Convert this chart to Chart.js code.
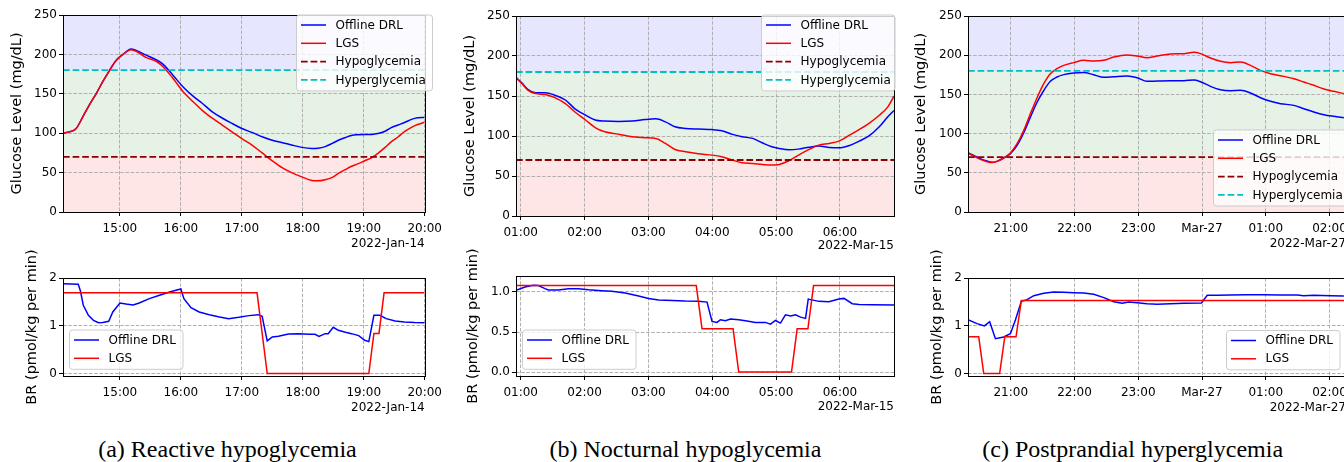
<!DOCTYPE html>
<html><head><meta charset="utf-8">
<script src="https://cdn.jsdelivr.net/npm/chart.js@4.4.0/dist/chart.umd.min.js"></script>
<style>
html,body{margin:0;padding:0;width:1344px;height:462px;overflow:hidden;background:#fff;position:relative;}
canvas{position:absolute;}
.cap{position:absolute;font-family:'Liberation Serif','Times New Roman',serif;font-size:24px;line-height:28px;white-space:nowrap;text-align:center;width:500px;color:#000;top:435px;}
</style></head><body>
<canvas id="aTop"></canvas><canvas id="aBot"></canvas>
<canvas id="bTop"></canvas><canvas id="bBot"></canvas>
<canvas id="cTop"></canvas><canvas id="cBot"></canvas>
<div class="cap" style="left:-22.5px">(a) Reactive hypoglycemia</div>
<div class="cap" style="left:435.5px">(b) Nocturnal hypoglycemia</div>
<div class="cap" style="left:882.7px">(c) Postprandial hyperglycemia</div>
<script>
// ---------- thresholds & ticks ----------
const HYPO = 70, HYPER = 180, GLU_MAX = 250;
const gluTicks = [0, 50, 100, 150, 200, 250];
const gluTickLabels = ['0', '50', '100', '150', '200', '250'];
const brTicks2 = [0, 1, 2];
const brTickLabels2 = ['0', '1', '2'];
const brTicks1 = [0, 0.5, 1.0];
const brTickLabels1 = ['0.0', '0.5', '1.0'];

// time values are minutes after midnight
const aTickTimes = [900, 960, 1020, 1080, 1140, 1200];
const aTickLabels = ['15:00', '16:00', '17:00', '18:00', '19:00', '20:00'];
const bTickTimes = [60, 120, 180, 240, 300, 360];
const bTickLabels = ['01:00', '02:00', '03:00', '04:00', '05:00', '06:00'];
const cTickTimes = [1260, 1320, 1380, 1440, 1500, 1560];
const cTickLabels = ['21:00', '22:00', '23:00', 'Mar-27', '01:00', '02:00'];

// ---------- (a) Reactive hypoglycemia ----------
const aTime = [844, 851, 857, 864, 870, 877, 883, 890, 896, 903, 911, 916, 926, 936, 942, 952, 962, 972, 981, 991, 1001, 1011, 1020, 1030, 1040, 1050, 1060, 1069, 1079, 1089, 1095, 1102, 1109, 1115, 1122, 1128, 1134, 1141, 1148, 1154, 1161, 1167, 1174, 1180, 1187, 1193, 1200];
const aGluDRL = [100, 102, 106, 122, 136, 151, 165, 180, 192, 200, 207, 205, 199, 193, 188, 174, 159, 147, 138, 127, 119, 112, 106, 101, 95.5, 91, 88, 85, 82, 80.6, 81, 83, 87, 91, 94.5, 97, 98, 98.5, 98.5, 99.5, 102.5, 107, 110.5, 113.5, 117.5, 119.5, 120];
const aGluLGS = [100, 102, 106, 122, 136, 151, 165, 180, 192, 200, 206, 204, 196, 191, 185, 170, 153, 140, 129, 119, 110, 101, 93, 85, 75, 65, 56, 50, 44.6, 40, 39.5, 41, 44, 49, 54, 58, 61, 65, 69, 74.5, 82, 89, 95.5, 102, 107.5, 111, 114];
const aBrDRLTime = [844, 859, 861, 864, 869, 874, 879, 883, 889, 893, 900, 906, 913, 919, 929, 939, 949, 957, 960, 963, 970, 978, 988, 998, 1007, 1017, 1027, 1036, 1040, 1045, 1050, 1056, 1066, 1076, 1086, 1092, 1096, 1102, 1105, 1110, 1115, 1122, 1128, 1135, 1141, 1145, 1150, 1156, 1162, 1171, 1180, 1190, 1200];
const aBrDRL = [1.88, 1.87, 1.74, 1.43, 1.22, 1.115, 1.066, 1.07, 1.094, 1.29, 1.477, 1.456, 1.435, 1.477, 1.568, 1.638, 1.707, 1.756, 1.77, 1.568, 1.38, 1.29, 1.233, 1.185, 1.15, 1.178, 1.213, 1.233, 1.2, 0.683, 0.767, 0.78, 0.83, 0.836, 0.822, 0.822, 0.78, 0.836, 0.836, 0.97, 0.906, 0.864, 0.836, 0.794, 0.697, 0.669, 1.22, 1.22, 1.15, 1.10, 1.08, 1.07, 1.066];
const aBrLGSTime = [844, 1035, 1045, 1145, 1150, 1155, 1160, 1200];
const aBrLGS = [1.69, 1.69, 0, 0, 0.84, 0.84, 1.69, 1.69];

// ---------- (b) Nocturnal hypoglycemia ----------
const bTime = [55.6, 61, 67, 74, 83, 92, 102, 111, 121, 130, 139, 152, 165, 177, 187, 196, 205, 215, 227, 240, 249, 259, 268, 278, 287, 296, 303, 312, 321, 331, 340, 350, 359, 369, 378, 387, 397, 405, 410.8];
const bGluDRL = [173, 166.4, 158, 154, 154, 151, 145, 134, 126, 120, 118.6, 118, 118.6, 120.6, 121.5, 117.7, 111.5, 109.4, 108.6, 108, 106.5, 102, 99, 97, 91.5, 86.5, 84.4, 82.8, 83.6, 86, 87.4, 85.7, 85.3, 88.2, 93.6, 99.8, 111.5, 124, 132];
const bGluLGS = [173, 165.6, 157, 153, 151.8, 148, 140.6, 130, 120, 110.6, 105.2, 102.3, 99, 97.8, 97, 90.7, 83.2, 80.3, 77.8, 76.1, 74, 69.9, 66.6, 65.7, 64.5, 63.6, 64.5, 69, 76, 83.2, 88.6, 90.7, 93.6, 101, 108, 115.6, 126, 136.4, 149.8];
const bBrDRLTime = [55.6, 64.1, 71.9, 76.6, 82.9, 86, 95.5, 104.9, 114.3, 123.7, 136.3, 145.7, 158.2, 170.8, 180.2, 189.6, 202.2, 214.7, 227.3, 235.1, 239.8, 244.5, 247.7, 252.4, 257.1, 264.9, 271.2, 280.6, 290, 294.7, 299.4, 304.1, 308.8, 313.6, 318.3, 323, 327.7, 330.2, 340.2, 349.6, 359, 363.8, 371.6, 377.9, 390.4, 410.8];
const bBrDRL = [1.02, 1.063, 1.084, 1.08, 1.042, 1.025, 1.025, 1.042, 1.042, 1.029, 1.017, 1.008, 0.987, 0.95, 0.92, 0.9, 0.895, 0.887, 0.883, 0.874, 0.632, 0.62, 0.653, 0.64, 0.661, 0.653, 0.64, 0.62, 0.62, 0.598, 0.644, 0.611, 0.715, 0.699, 0.715, 0.686, 0.67, 0.912, 0.883, 0.879, 0.912, 0.92, 0.854, 0.845, 0.841, 0.837];
const bBrLGSTime = [55.6, 225, 230.4, 259.6, 264.9, 314.5, 319.8, 329.9, 335.2, 410.8];
const bBrLGS = [1.08, 1.08, 0.54, 0.54, 0, 0, 0.54, 0.54, 1.08, 1.08];

// ---------- (c) Postprandial hyperglycemia ----------
const cTime = [1219.8, 1225.2, 1231.4, 1237.7, 1242.4, 1247.1, 1253.4, 1259.7, 1266, 1272.2, 1278.5, 1284.8, 1291.1, 1297.3, 1303.6, 1309.9, 1319.3, 1328.7, 1338.1, 1347.6, 1357, 1369.5, 1378.9, 1388.3, 1397.8, 1410.3, 1422.9, 1432.3, 1438.6, 1448, 1457.4, 1466.8, 1476.2, 1485.6, 1495, 1504.5, 1513.9, 1526.4, 1535.8, 1545.2, 1554.7, 1564.1, 1573.5];
const cGluDRL = [75.3, 72.3, 68, 65, 63.4, 64.6, 68.9, 74.4, 85, 100.8, 121, 140, 155, 166.7, 172.2, 175.2, 177.3, 178, 175, 171.8, 172.6, 173.5, 171.3, 166.7, 167.1, 167.5, 167.5, 168.4, 166.2, 160.3, 156, 154.8, 155.2, 151.8, 145.8, 141.2, 138.2, 136, 131.8, 127.6, 124.1, 122, 120.3];
const cGluLGS = [75.3, 71.4, 67.2, 64.2, 63, 64.6, 68.9, 75.3, 87.2, 104, 125.4, 145.8, 163.7, 176.4, 182.8, 187, 190.5, 193.5, 192.6, 193.5, 197.7, 200.3, 199, 196.9, 199, 201.5, 202, 203.7, 202, 196.4, 192.2, 190.5, 191.3, 187, 180.7, 176.4, 173.9, 170, 165.8, 161.6, 156.9, 153.9, 151];
const cBrDRLTime = [1219.8, 1228.3, 1235.2, 1240.2, 1245.6, 1253.4, 1259.7, 1264.4, 1270, 1275.4, 1281.7, 1291.1, 1300.5, 1309.9, 1319.3, 1328.7, 1338.1, 1347.6, 1357, 1364.8, 1371.1, 1378.9, 1388.3, 1397.8, 1410.3, 1422.9, 1439.5, 1444.9, 1454.2, 1466.8, 1482.5, 1498.2, 1513.9, 1529.6, 1535.8, 1545.2, 1560.9, 1573.5];
const cBrDRL = [1.129, 1.045, 0.997, 1.087, 0.732, 0.767, 0.836, 1.12, 1.512, 1.547, 1.63, 1.679, 1.707, 1.70, 1.693, 1.686, 1.659, 1.589, 1.505, 1.47, 1.498, 1.484, 1.463, 1.449, 1.463, 1.47, 1.477, 1.637, 1.637, 1.645, 1.652, 1.652, 1.645, 1.645, 1.63, 1.637, 1.63, 1.624];
const cBrLGSTime = [1219.8, 1229.9, 1234.6, 1249.6, 1254.4, 1265, 1270, 1576];
const cBrLGS = [0.77, 0.77, 0, 0, 0.77, 0.77, 1.53, 1.53];

// ---------- helpers ----------
Chart.defaults.font.family = "'DejaVu Sans', sans-serif";
Chart.defaults.font.size = 12;
Chart.defaults.color = '#000';

const C_DRL = '#0000ff', C_LGS = '#ff0000', C_HYPO = '#8b0000', C_HYPER = '#00bfbf';
const pts = (xs, ys) => xs.map((x, i) => ({x: x, y: ys[i]}));

function gluDatasets(xMin, xMax, t, drl, lgs) {
  return [
    {label: 'Offline DRL', data: pts(t, drl), borderColor: C_DRL, borderWidth: 1.5, cubicInterpolationMode: 'monotone', order: 4},
    {label: 'LGS', data: pts(t, lgs), borderColor: C_LGS, borderWidth: 1.5, cubicInterpolationMode: 'monotone', order: 3},
    {label: 'Hypoglycemia', data: pts([xMin, xMax], [HYPO, HYPO]), borderColor: C_HYPO, borderWidth: 1.8, borderDash: [6.7, 2.9], order: 2},
    {label: 'Hyperglycemia', data: pts([xMin, xMax], [HYPER, HYPER]), borderColor: C_HYPER, borderWidth: 1.8, borderDash: [6.7, 2.9], order: 1}
  ];
}
function brDatasets(tD, d, tL, l) {
  return [
    {label: 'Offline DRL', data: pts(tD, d), borderColor: C_DRL, borderWidth: 1.5, tension: 0, order: 2},
    {label: 'LGS', data: pts(tL, l), borderColor: C_LGS, borderWidth: 1.5, tension: 0, order: 1}
  ];
}

function makeChart(id, c) {
  const cv = c.canvas, ar = c.area;
  const el = document.getElementById(id);
  el.width = cv.w; el.height = cv.h;
  el.style.left = cv.x + 'px'; el.style.top = cv.y + 'px';
  el.style.width = cv.w + 'px'; el.style.height = cv.h + 'px';

  const overlay = {
    id: 'overlay_' + id,
    beforeDraw(chart) {
      if (!c.bands) return;
      const {ctx, chartArea: a, scales: {y}} = chart;
      const band = (lo, hi, col) => {
        const y1 = y.getPixelForValue(hi), y2 = y.getPixelForValue(lo);
        ctx.fillStyle = col; ctx.fillRect(a.left, y1, a.right - a.left, y2 - y1);
      };
      ctx.save();
      band(0, HYPO, '#ffe6e6');
      band(HYPO, HYPER, '#e6f2e6');
      band(HYPER, GLU_MAX, '#e6e6ff');
      ctx.restore();
    },
    afterDatasetsDraw(chart) {
      const {ctx, chartArea: a} = chart;
      ctx.save();
      ctx.strokeStyle = '#000'; ctx.lineWidth = 1;
      ctx.strokeRect(Math.round(a.left) + 0.5, Math.round(a.top) + 0.5, Math.round(a.right - a.left), Math.round(a.bottom - a.top));
      ctx.restore();
    },
    afterDraw(chart) {
      const {ctx, chartArea: a} = chart;
      ctx.save();
      // y-axis title
      ctx.translate(c.yTitleX - cv.x, (a.top + a.bottom) / 2);
      ctx.rotate(-Math.PI / 2);
      ctx.font = "14.5px 'DejaVu Sans'";
      ctx.fillStyle = '#000'; ctx.textAlign = 'center'; ctx.textBaseline = 'middle';
      ctx.fillText(c.yTitle, 0, 0);
      ctx.restore();
      // legend
      const L = c.legend;
      const items = chart.data.datasets;
      const x = L.x - cv.x, y = L.y - cv.y, w = L.w, rs = 18.3;
      const h = 21 + (items.length - 1) * rs;
      ctx.save();
      ctx.beginPath();
      if (ctx.roundRect) ctx.roundRect(x + 0.5, y + 0.5, w, h, 3); else ctx.rect(x + 0.5, y + 0.5, w, h);
      ctx.fillStyle = 'rgba(255,255,255,0.8)'; ctx.fill();
      ctx.strokeStyle = '#cccccc'; ctx.lineWidth = 1; ctx.stroke();
      ctx.font = "12px 'DejaVu Sans'"; ctx.textBaseline = 'middle'; ctx.textAlign = 'left';
      items.forEach((ds, i) => {
        const cy = y + 10.5 + i * rs;
        ctx.beginPath();
        ctx.setLineDash(ds.borderDash || []);
        ctx.strokeStyle = ds.borderColor; ctx.lineWidth = ds.borderWidth;
        ctx.moveTo(x + 5, cy); ctx.lineTo(x + 30, cy); ctx.stroke();
        ctx.setLineDash([]);
        ctx.fillStyle = '#000';
        ctx.fillText(ds.label, x + 39.5, cy + 0.5);
      });
      ctx.restore();
    }
  };

  const gridCommon = {color: '#b0b0b0', lineWidth: 1, drawTicks: true, tickLength: 4, tickColor: '#000', tickWidth: 1, tickBorderDash: []};
  return new Chart(el, {
    type: 'line',
    data: {datasets: c.datasets},
    plugins: [overlay],
    options: {
      responsive: false, animation: false, devicePixelRatio: 1,
      events: [],
      layout: {padding: {left: 0, top: ar.t - cv.y, right: cv.x + cv.w - ar.r, bottom: 0}},
      plugins: {legend: {display: false}, tooltip: {enabled: false}, title: {display: false}},
      elements: {point: {radius: 0}},
      scales: {
        x: {
          type: 'linear', min: c.xMin, max: c.xMax, bounds: 'data',
          afterFit: s => { s.height = cv.y + cv.h - ar.b; },
          afterBuildTicks: s => { s.ticks = c.xTicks.map(v => ({value: v})); },
          ticks: {autoSkip: false, maxRotation: 0, minRotation: 0, padding: 6, color: '#000', font: {size: 12},
                  callback: (v, i) => c.xLabels[i]},
          grid: gridCommon,
          border: {display: false, dash: [3.6, 1.6]},
          title: {display: true, text: c.date, align: 'end', color: '#000', font: {size: 12}, padding: {top: 0, bottom: c.datePad}}
        },
        y: {
          type: 'linear', min: c.yMin, max: c.yMax, bounds: 'data',
          afterFit: s => { s.width = ar.l - cv.x; },
          afterBuildTicks: s => { s.ticks = c.yTicks.map(v => ({value: v})); },
          ticks: {autoSkip: false, padding: 2, color: '#000', font: {size: 12}, callback: (v, i) => c.yLabels[i]},
          grid: gridCommon,
          border: {display: false, dash: [3.6, 1.6]}
        }
      }
    }
  });
}

// ---------- build ----------
makeChart('aTop', {
  canvas: {x: 0, y: 0, w: 448, h: 262}, area: {l: 63, t: 15, r: 427, b: 212},
  xMin: 844, xMax: 1200, xTicks: aTickTimes, xLabels: aTickLabels,
  yMin: 0, yMax: 250, yTicks: gluTicks, yLabels: gluTickLabels, bands: true,
  datasets: gluDatasets(844, 1200, aTime, aGluDRL, aGluLGS),
  date: '2022-Jan-14', datePad: 11.3, yTitle: 'Glucose Level (mg/dL)', yTitleX: 17.5,
  legend: {x: 296, y: 14.5, w: 136}
});
makeChart('aBot', {
  canvas: {x: 0, y: 236, w: 448, h: 186}, area: {l: 63, t: 278, r: 427, b: 376},
  xMin: 844, xMax: 1200, xTicks: aTickTimes, xLabels: aTickLabels,
  yMin: -0.05, yMax: 2, yTicks: brTicks2, yLabels: brTickLabels2, bands: false,
  datasets: brDatasets(aBrDRLTime, aBrDRL, aBrLGSTime, aBrLGS),
  date: '2022-Jan-14', datePad: 6.5, yTitle: 'BR (pmol/kg per min)', yTitleX: 32.7,
  legend: {x: 69, y: 329.5, w: 113.5}
});
makeChart('bTop', {
  canvas: {x: 448, y: 0, w: 448, h: 262}, area: {l: 516, t: 16, r: 894, b: 216},
  xMin: 55.6, xMax: 410.8, xTicks: bTickTimes, xLabels: bTickLabels,
  yMin: 0, yMax: 250, yTicks: gluTicks, yLabels: gluTickLabels, bands: true,
  datasets: gluDatasets(55.6, 410.8, bTime, bGluDRL, bGluLGS),
  date: '2022-Mar-15', datePad: 8.8, yTitle: 'Glucose Level (mg/dL)', yTitleX: 470.2,
  legend: {x: 761, y: 14.5, w: 133.5}
});
makeChart('bBot', {
  canvas: {x: 448, y: 236, w: 448, h: 186}, area: {l: 516, t: 276, r: 894, b: 376},
  xMin: 55.6, xMax: 410.8, xTicks: bTickTimes, xLabels: bTickLabels,
  yMin: -0.05, yMax: 1.2, yTicks: brTicks1, yLabels: brTickLabels1, bands: false,
  datasets: brDatasets(bBrDRLTime, bBrDRL, bBrLGSTime, bBrLGS),
  date: '2022-Mar-15', datePad: 8.1, yTitle: 'BR (pmol/kg per min)', yTitleX: 473,
  legend: {x: 522, y: 329.5, w: 113.5}
});
makeChart('cTop', {
  canvas: {x: 896, y: 0, w: 460, h: 262}, area: {l: 968, t: 16, r: 1346, b: 212},
  xMin: 1219.8, xMax: 1575.5, xTicks: cTickTimes, xLabels: cTickLabels,
  yMin: 0, yMax: 250, yTicks: gluTicks, yLabels: gluTickLabels, bands: true,
  datasets: gluDatasets(1219.8, 1575.5, cTime, cGluDRL, cGluLGS),
  date: '2022-Mar-27', datePad: 11.3, yTitle: 'Glucose Level (mg/dL)', yTitleX: 921.5,
  legend: {x: 1213, y: 129.5, w: 136}
});
makeChart('cBot', {
  canvas: {x: 896, y: 236, w: 460, h: 186}, area: {l: 968, t: 278, r: 1346, b: 376},
  xMin: 1219.8, xMax: 1575.5, xTicks: cTickTimes, xLabels: cTickLabels,
  yMin: -0.05, yMax: 2, yTicks: brTicks2, yLabels: brTickLabels2, bands: false,
  datasets: brDatasets(cBrDRLTime, cBrDRL, cBrLGSTime, cBrLGS),
  date: '2022-Mar-27', datePad: 6.8, yTitle: 'BR (pmol/kg per min)', yTitleX: 937.7,
  legend: {x: 1226, y: 330, w: 113.5}
});
</script>
</body></html>
